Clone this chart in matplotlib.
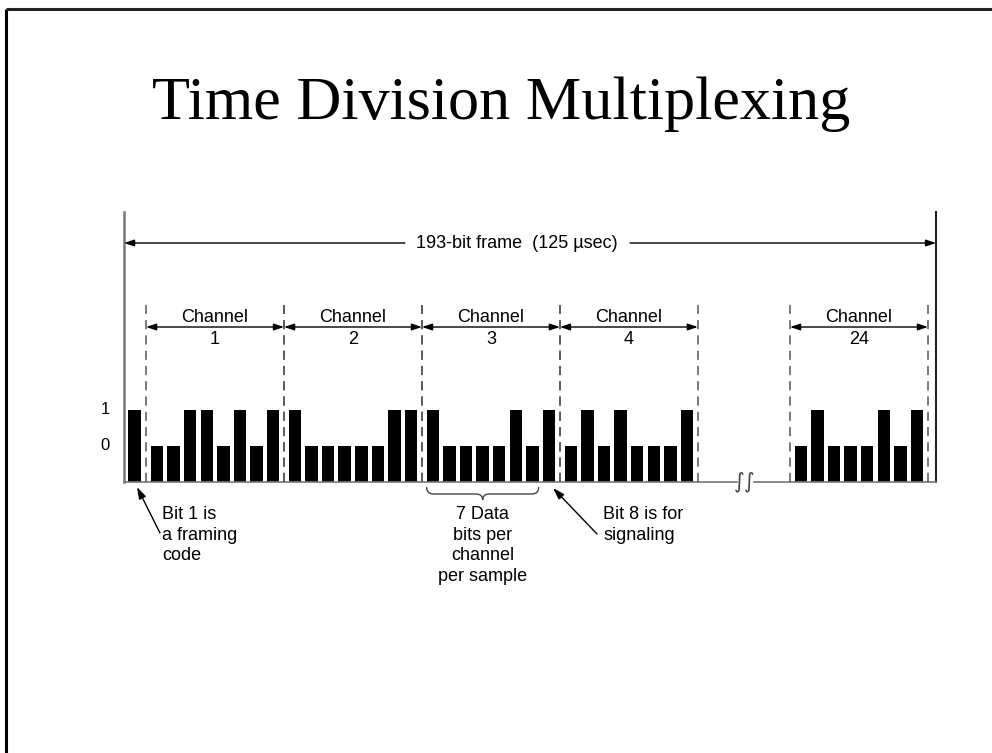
import numpy as np
import matplotlib.pyplot as plt
from matplotlib.path import Path
from matplotlib.patches import PathPatch

# ---- data ----
framing_bit = 1
channel_labels = ['1', '2', '3', '4', '24']
channel_bits = [
    [0, 0, 1, 1, 0, 1, 0, 1],
    [1, 0, 0, 0, 0, 0, 1, 1],
    [1, 0, 0, 0, 0, 1, 0, 1],
    [0, 1, 0, 1, 0, 0, 0, 1],
    [0, 1, 0, 0, 0, 1, 0, 1],
]
level_names = ['0', '1']
level_heights = [0.5, 1.0]

# ---- layout (1 x-unit = one bit slot, 1 y-unit = height of a "1") ----
W, H = 992, 753
X0, Y0 = 124, 482          # pixel position of frame origin
PITCH, UNIT = 16.6, 72.0   # pixels per bit slot / per level unit

def px(x):
    return (x - X0) / PITCH

def py(y):
    return (Y0 - y) / UNIT

frame_x = 0.63
dash0 = 1.33
gap = 0.31
chan_w = 8 + gap
break_gap = 5.55
frame_end = 48.92
bar_w = 0.75

starts = [dash0 + k * chan_w for k in range(4)] + [dash0 + 4 * chan_w + break_gap]

fig = plt.figure(figsize=(W / 100, H / 100), dpi=100)
ax = fig.add_axes([0, 0, 1, 1])
ax.set_xlim(px(0), px(W))
ax.set_ylim(py(H), py(0))
ax.axis('off')

sans = 'Liberation Sans'
fs = 13

# slide border
ax.plot([px(6), px(6)], [py(H), py(9)], color='black', lw=2.2, solid_capstyle='butt')
ax.plot([px(6), px(W)], [py(9), py(9)], color='#222222', lw=2.2, solid_capstyle='butt')

# title
ax.text(px(501), py(119), 'Time Division Multiplexing', family='Liberation Serif',
        fontsize=44.8, ha='center', va='baseline')

# frame boundary lines and baseline
ax.plot([0, 0], [0, py(212)], color='#777777', lw=1.8)
ax.plot([frame_end, frame_end], [0, py(212)], color='#222222', lw=1.5)
ax.plot([0, px(737)], [0, 0], color='#777777', lw=1.2)
ax.plot([px(754), frame_end], [0, 0], color='#777777', lw=1.2)
ax.text(px(745), 0, '\u222b\u222b', family='DejaVu Sans', fontsize=15,
        ha='center', va='center', color='#444444')

# bars
ax.bar([frame_x], [level_heights[framing_bit]], width=bar_w, color='black')
for s, bits in zip(starts, channel_bits):
    xs = s + gap / 2 + 0.5 + np.arange(len(bits))
    hs = [level_heights[b] for b in bits]
    ax.bar(xs, hs, width=bar_w, color='black')

# level labels
for name, h in zip(level_names, level_heights):
    ax.text(px(105), h, name, family=sans, fontsize=12, ha='center', va='center')

# channel dividers and labels
arrow_kw = dict(arrowstyle='<|-|>,head_length=0.6,head_width=0.2', color='black',
                lw=1, shrinkA=0, shrinkB=0, mutation_scale=10)
for s, lab in zip(starts, channel_labels):
    for d in (s, s + chan_w):
        ax.plot([d, d], [0, py(305)], color='#555555', lw=1.1, dashes=(6, 4))
    ax.annotate('', xy=(s + chan_w, py(327)), xytext=(s, py(327)), arrowprops=arrow_kw)
    ax.text(s + chan_w / 2, py(318), 'Channel', family=sans, fontsize=fs,
            ha='center', va='center')
    ax.text(s + chan_w / 2, py(340), lab, family=sans, fontsize=fs,
            ha='center', va='center')

# 193-bit frame arrow
one_kw = dict(arrowstyle='-|>,head_length=0.6,head_width=0.2', color='black',
              lw=1, shrinkA=0, shrinkB=0, mutation_scale=10)
ax.text(px(517), py(243), '193-bit frame  (125 \u00b5sec)', family=sans, fontsize=fs,
        ha='center', va='center')
ax.annotate('', xy=(0, py(243)), xytext=(px(405), py(243)), arrowprops=one_kw)
ax.annotate('', xy=(frame_end, py(243)), xytext=(px(630), py(243)), arrowprops=one_kw)

# brace under the 7 data bits of channel 3
L = starts[2] + gap / 2 + 0.5 - bar_w / 2
R = starts[2] + gap / 2 + 0.5 + 6 + bar_w / 2
M = (L + R) / 2
top, mid, tip = py(487), py(494), py(500)
verts = [(L, top), (L, mid), (L + 0.4, mid), (M - 0.4, mid), (M, mid), (M, tip),
         (M, mid), (M + 0.4, mid), (R - 0.4, mid), (R, mid), (R, top)]
codes = [Path.MOVETO, Path.CURVE3, Path.CURVE3, Path.LINETO, Path.CURVE3, Path.CURVE3,
         Path.CURVE3, Path.CURVE3, Path.LINETO, Path.CURVE3, Path.CURVE3]
ax.add_patch(PathPatch(Path(verts, codes), fill=False, edgecolor='#444444', lw=1))

# annotations
ann_kw = dict(arrowstyle='-|>,head_length=0.7,head_width=0.22', color='black',
              lw=1, shrinkA=0, shrinkB=0, mutation_scale=10)
ax.annotate('', xy=(px(137), py(487)), xytext=(px(160), py(533)), arrowprops=ann_kw)
ax.annotate('', xy=(px(553), py(488)), xytext=(px(597), py(534)), arrowprops=ann_kw)

ax.text(px(162), py(506), 'Bit 1 is\na framing\ncode', family=sans, fontsize=fs,
        ha='left', va='top', linespacing=1.28)
ax.text(M, py(506), '7 Data\nbits per\nchannel\nper sample', family=sans, fontsize=fs,
        ha='center', va='top', multialignment='center', linespacing=1.28)
ax.text(px(603), py(506), 'Bit 8 is for\nsignaling', family=sans, fontsize=fs,
        ha='left', va='top', linespacing=1.28)

plt.savefig('out.png', dpi=100)
